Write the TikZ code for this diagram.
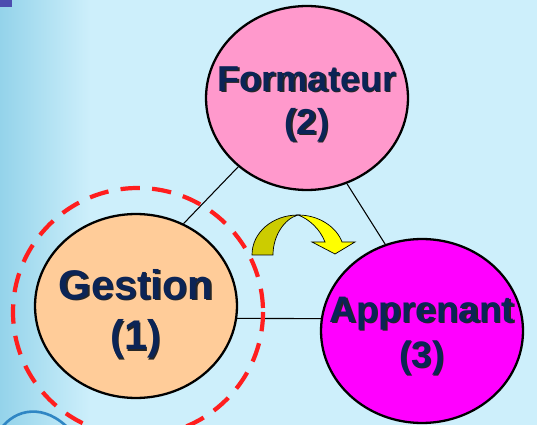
\documentclass[tikz,border=0pt]{standalone}
\usepackage{fontspec}
\setmainfont{Liberation Sans}
\usetikzlibrary{shapes.geometric}
\definecolor{bgblue}{HTML}{CDEFFB}
\definecolor{bgedge}{HTML}{94D3EA}
\definecolor{navytext}{HTML}{0B2456}
\definecolor{pinkfill}{HTML}{FF99CC}
\definecolor{peachfill}{HTML}{FFCC99}
\definecolor{magentafill}{HTML}{FF00FF}
\definecolor{ringred}{HTML}{FF1E1E}
\definecolor{olivearrow}{HTML}{CCCC00}
\definecolor{yellowarrow}{HTML}{FFFF00}
\definecolor{swooshblue}{HTML}{2F86C4}

\begin{document}
\begin{tikzpicture}[
  x=0.02cm, y=-0.02cm,
  every node/.style={align=center},
  rolebox/.style={ellipse, draw=black, line width=1.3pt, inner sep=0pt,
                  minimum width=4.04cm, minimum height=3.68cm},
  rolelabel/.style={text=navytext, align=center, inner sep=0pt,
                    font=\bfseries\fontsize{20.5}{24.5}\selectfont},
  roleshadow/.style={rolelabel, text=black!85, xshift=0.025cm},
  link/.style={draw=black, line width=0.6pt},
  focusring/.style={draw=ringred, line width=2.4pt, dash pattern=on 11pt off 7pt},
  bendarrow/.style={draw=black, line width=0.4pt}
]

% Background
\useasboundingbox (0,0) rectangle (537,425);
\clip (0,0) rectangle (537,425);
\fill[bgblue] (0,0) rectangle (537,425);
\shade[left color=bgedge, right color=bgblue] (0,0) rectangle (90,425);
\fill[blue!55!black!70] (0,0) rectangle (12,7);
\draw[swooshblue, line width=1.5pt] (0,430) .. controls (15,408) and (45,403) .. (70,430);

% Roles
\node[rolebox, fill=pinkfill,
      label={[roleshadow, yshift=-0.145cm]center:Formateur\\(2)},
      label={[rolelabel, yshift=-0.12cm]center:Formateur\\(2)}] (formateur) at (307,98) {};
\node[rolebox, fill=peachfill,
      label={[roleshadow, yshift=-0.185cm, font=\bfseries\fontsize{23.6}{28.5}\selectfont]center:Gestion\\(1)},
      label={[rolelabel, yshift=-0.16cm, font=\bfseries\fontsize{23.6}{28.5}\selectfont]center:Gestion\\(1)}]
  (gestion) at (136,306) {};
\node[rolebox, fill=magentafill,
      label={[roleshadow, yshift=-0.125cm, font=\bfseries\fontsize{21}{25.5}\selectfont]center:Apprenant\\(3)},
      label={[rolelabel, yshift=-0.1cm, font=\bfseries\fontsize{21}{25.5}\selectfont]center:Apprenant\\(3)}]
  (apprenant) at (422,331) {};

% Links
\draw[link] (formateur.225) -- (gestion.60);
\draw[link] (formateur.-65) -- (apprenant.113);
\draw[link] (gestion.-7) -- (apprenant.173);

% Focus on Gestion
\draw[focusring] (138,312) circle[x radius=125, y radius=124];

% Curved arrow
\filldraw[bendarrow, fill=olivearrow]
  (252,255) .. controls (252,232) and (273,215) .. (298,215)
  .. controls (284,219) and (273,236) .. (273,255) -- cycle;
\filldraw[bendarrow, fill=yellowarrow]
  (298,215) .. controls (320,215) and (337,228) .. (342,242)
  -- (355,242) -- (335,254) -- (312,242) -- (325,242)
  .. controls (320,229) and (309,219) .. (298,215) -- cycle;

\end{tikzpicture}
\end{document}
